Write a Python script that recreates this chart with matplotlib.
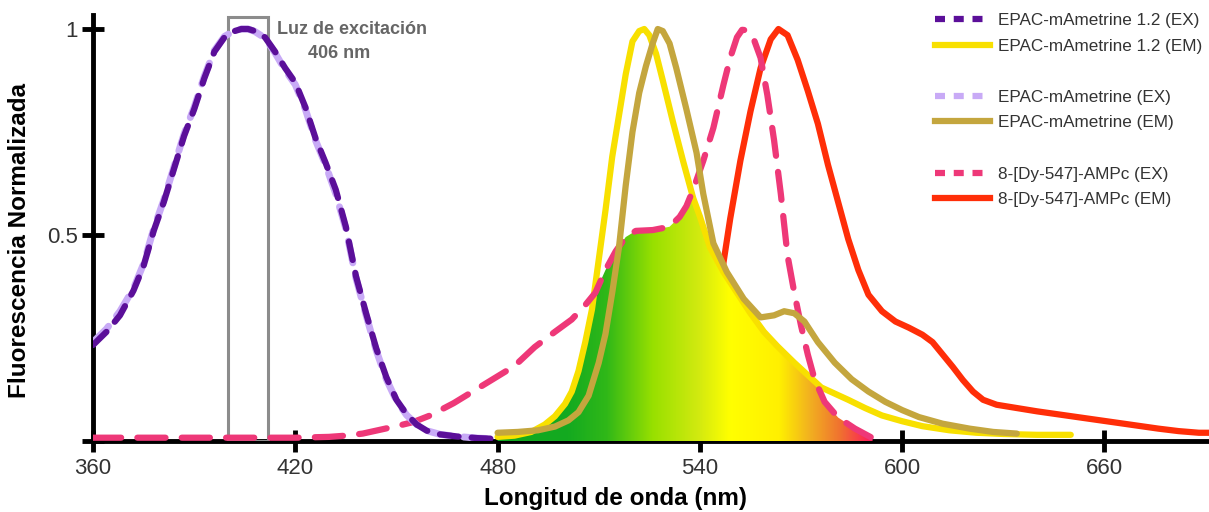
import numpy as np
import matplotlib
matplotlib.use("Agg")
import matplotlib.pyplot as plt
from matplotlib.patches import Rectangle, Polygon
from matplotlib.colors import LinearSegmentedColormap
import matplotlib.lines as mlines

plt.rcParams['font.family'] = ['Liberation Sans', 'DejaVu Sans']

# EPAC-mAmetrine 1.2 excitation
ex12_x = [360, 364, 368, 372, 375, 378, 381, 384, 387, 390, 393, 396, 399, 402, 404, 406, 408,
          411, 414, 417, 420, 423, 426, 429, 432, 435, 438, 441, 444, 447, 450, 453, 456, 459,
          463, 468, 474, 480]
ex12_y = [0.233, 0.265, 0.305, 0.365, 0.425, 0.51, 0.58, 0.66, 0.74, 0.805, 0.88, 0.945, 0.98,
          0.995, 1.0, 1.0, 0.995, 0.98, 0.945, 0.905, 0.87, 0.81, 0.735, 0.675, 0.61, 0.52, 0.40,
          0.31, 0.225, 0.155, 0.10, 0.065, 0.04, 0.025, 0.016, 0.011, 0.007, 0.005]

# EPAC-mAmetrine excitation
ex_x = [360, 364, 368, 372, 375, 378, 381, 384, 387, 390, 393, 396, 399, 402, 404, 406, 408,
        411, 414, 417, 420, 423, 426, 429, 432, 435, 438, 441, 444, 447, 450, 453, 456, 459,
        463, 468, 474, 480]
ex_y = [0.24, 0.272, 0.315, 0.37, 0.43, 0.515, 0.585, 0.665, 0.745, 0.81, 0.885, 0.948, 0.982,
        0.996, 1.0, 1.0, 0.994, 0.978, 0.942, 0.9, 0.865, 0.805, 0.73, 0.67, 0.6, 0.515, 0.395,
        0.305, 0.22, 0.15, 0.098, 0.063, 0.04, 0.025, 0.016, 0.011, 0.007, 0.005]

# 8-[Dy-547]-AMPc excitation
dy_ex_x = [360, 380, 400, 420, 430, 435, 440, 445, 450, 455, 460, 467, 473, 479, 485, 491, 497,
           502, 506, 509, 512, 515, 518, 521, 526, 531, 534, 536, 538, 541, 544, 547, 549, 551,
           552.5, 554, 556, 558, 560, 562, 564, 566, 568, 570, 572, 574, 577, 581, 586, 591]
dy_ex_y = [0.008, 0.008, 0.008, 0.008, 0.01, 0.013, 0.018, 0.027, 0.036, 0.046, 0.062, 0.092,
           0.122, 0.152, 0.182, 0.228, 0.265, 0.295, 0.33, 0.36, 0.415, 0.46, 0.495, 0.51, 0.512,
           0.52, 0.544, 0.57, 0.61, 0.68, 0.76, 0.865, 0.93, 0.98, 0.998, 0.997, 0.975, 0.93,
           0.84, 0.73, 0.6, 0.45, 0.36, 0.28, 0.21, 0.15, 0.095, 0.057, 0.03, 0.008]

# EPAC-mAmetrine 1.2 emission
em12_x = [480, 485, 490, 494, 497, 500, 502, 504, 506, 508, 510, 512, 514, 516, 518, 520, 522,
          523.5, 525, 527, 529, 532, 535, 538, 540, 543, 547, 551, 555, 559, 563, 568, 572, 576,
          580, 584, 589, 594, 600, 606, 614, 622, 630, 640, 650]
em12_y = [0.01, 0.013, 0.022, 0.04, 0.06, 0.09, 0.12, 0.17, 0.24, 0.32, 0.44, 0.56, 0.69, 0.79,
          0.89, 0.97, 0.995, 1.0, 0.985, 0.94, 0.875, 0.775, 0.68, 0.59, 0.545, 0.47, 0.41, 0.36,
          0.31, 0.265, 0.23, 0.19, 0.16, 0.13, 0.115, 0.1, 0.08, 0.062, 0.048, 0.036, 0.026,
          0.02, 0.017, 0.015, 0.015]

# EPAC-mAmetrine emission
em_x = [480, 486, 492, 497, 501, 504, 507, 510, 512, 514, 516, 518, 520, 522, 524, 526, 527.5,
        529, 531, 533, 536, 539, 541, 544, 548, 553, 558, 562, 565, 568, 571, 575, 580, 585,
        590, 595, 600, 605, 612, 620, 627, 634]
em_y = [0.02, 0.022, 0.026, 0.035, 0.05, 0.07, 0.11, 0.19, 0.26, 0.36, 0.47, 0.62, 0.75, 0.845,
        0.91, 0.965, 1.0, 0.995, 0.965, 0.905, 0.805, 0.7, 0.6, 0.48, 0.41, 0.345, 0.3, 0.305,
        0.315, 0.31, 0.29, 0.24, 0.19, 0.15, 0.12, 0.095, 0.075, 0.058, 0.042, 0.03, 0.022,
        0.018]

# 8-[Dy-547]-AMPc emission
dy_em_x = [520, 528, 534, 539, 543, 546, 549, 552, 555, 558, 561, 563.3, 566, 569, 572, 575,
           578, 581, 584, 587, 590, 594, 598, 602, 606, 609, 612, 615, 618, 621, 624, 628, 634,
           640, 646, 652, 658, 664, 670, 676, 682, 688, 691]
dy_em_y = [0.01, 0.03, 0.07, 0.15, 0.26, 0.38, 0.54, 0.68, 0.8, 0.905, 0.975, 1.0, 0.985, 0.925,
           0.85, 0.77, 0.67, 0.58, 0.49, 0.415, 0.355, 0.315, 0.29, 0.275, 0.258, 0.24, 0.21,
           0.18, 0.148, 0.12, 0.1, 0.088, 0.08, 0.072, 0.065, 0.058, 0.051, 0.044, 0.037, 0.03,
           0.024, 0.02, 0.02]

x_ticks = [360, 420, 480, 540, 600, 660]
y_ticks = [0, 0.5, 1]
y_tick_labels = ["", "0.5", "1"]

exc_center = 406
exc_width = 12

PURPLE = "#5b0f99"
LAVENDER = "#c8aaf6"
PINK = "#ee3878"
YELLOW = "#f8e000"
TAN = "#c4a63e"
RED = "#ff2e08"

line_kw = dict(solid_capstyle="round", solid_joinstyle="round")
dash_kw = dict(dash_capstyle="round", dash_joinstyle="round")

fig = plt.figure(figsize=(12.09, 5.12), dpi=100)
ax = fig.add_axes([93 / 1209, 71 / 512, 1116 / 1209, 426 / 512])

# excitation window
ax.add_patch(Rectangle((exc_center - exc_width / 2, 0), exc_width, 1.03, facecolor="none",
                       edgecolor="#8c8c8c", linewidth=2.2, zorder=1))

ax.plot(dy_em_x, dy_em_y, color=RED, lw=4.5, zorder=2, **line_kw)

# overlap between donor emission and acceptor excitation, shaded with a spectral gradient
grid = np.arange(480, 600, 0.25)
overlap = np.minimum(np.interp(grid, em12_x, em12_y, left=0, right=0),
                     np.interp(grid, dy_ex_x, dy_ex_y, left=0, right=0))
verts = np.column_stack([np.r_[grid, grid[::-1]], np.r_[overlap, np.zeros_like(grid)]])
poly = Polygon(verts, closed=True, facecolor="none", edgecolor="none")
ax.add_patch(poly)
spec = LinearSegmentedColormap.from_list("spec", [
    (0.00, "#10a820"), (0.20, "#14aa20"), (0.30, "#30b818"), (0.42, "#98e000"),
    (0.54, "#d2ea10"), (0.62, "#ffff00"), (0.75, "#fff000"), (0.83, "#f2b020"),
    (0.91, "#f07030"), (1.00, "#ff1060")])
im = ax.imshow(np.linspace(0, 1, 256)[None, :], extent=[478, 592, 0, 1], aspect="auto",
               cmap=spec, zorder=3)
im.set_clip_path(poly)

ax.plot(em12_x, em12_y, color=YELLOW, lw=4.5, zorder=4, **line_kw)
ax.plot(dy_ex_x, dy_ex_y, color=PINK, lw=4.5, dashes=(4.5, 2.6), zorder=5, **dash_kw)
ax.plot(em_x, em_y, color=TAN, lw=4.5, zorder=6, **line_kw)
ax.plot(ex_x, ex_y, color=LAVENDER, lw=5, dashes=(3.2, 1.9), zorder=7, **dash_kw)
ax.plot(ex12_x, ex12_y, color=PURPLE, lw=4.5, dashes=(3.0, 2.1), zorder=8, **dash_kw)

ax.set_xlim(360, 691)
ax.set_ylim(0, 1.034)
ax.set_xticks(x_ticks)
ax.set_yticks(y_ticks)
ax.set_yticklabels(y_tick_labels)
for side in ("top", "right"):
    ax.spines[side].set_visible(False)
for side in ("left", "bottom"):
    ax.spines[side].set_linewidth(3.5)
    ax.spines[side].set_zorder(0.5)
ax.tick_params(direction="inout", length=16, width=3.5, labelsize=16, labelcolor="#333333",
               pad=3)
ax.tick_params(axis="x", pad=4)

fig.text(20 / 1209, 1 - 240 / 512, "Fluorescencia Normalizada", rotation=90, ha="center",
         va="center", fontsize=17.5, fontweight="bold")
fig.text(616 / 1209, 1 - 499 / 512, "Longitud de onda (nm)", ha="center", va="center",
         fontsize=17.5, fontweight="bold")

ax.text(414.5, 1.0, "Luz de excitación", ha="left", va="center", fontsize=13,
        fontweight="bold", color="#666666")
ax.text(433, 0.94, "406 nm", ha="center", va="center", fontsize=13, fontweight="bold",
        color="#666666")

blank = mlines.Line2D([], [], color="none", label=" ")
handles = [
    mlines.Line2D([], [], color=PURPLE, lw=4.5, dashes=(1.6, 1.4), label="EPAC-mAmetrine 1.2 (EX)"),
    mlines.Line2D([], [], color=YELLOW, lw=4.5, label="EPAC-mAmetrine 1.2 (EM)"),
    blank,
    mlines.Line2D([], [], color=LAVENDER, lw=4.5, dashes=(1.6, 1.4), label="EPAC-mAmetrine (EX)"),
    mlines.Line2D([], [], color=TAN, lw=4.5, label="EPAC-mAmetrine (EM)"),
    blank,
    mlines.Line2D([], [], color=PINK, lw=4.5, dashes=(1.6, 1.4), label="8-[Dy-547]-AMPc (EX)"),
    mlines.Line2D([], [], color=RED, lw=4.5, label="8-[Dy-547]-AMPc (EM)"),
]
fig.legend(handles=handles, loc="upper left", bbox_to_anchor=(935 / 1209, 1 - 13 / 512),
           frameon=False, fontsize=12.3, handlelength=3.2, handletextpad=0.5, labelspacing=0.62,
           borderpad=0, borderaxespad=0, labelcolor="#333333")

plt.savefig("out.png", dpi=100)
